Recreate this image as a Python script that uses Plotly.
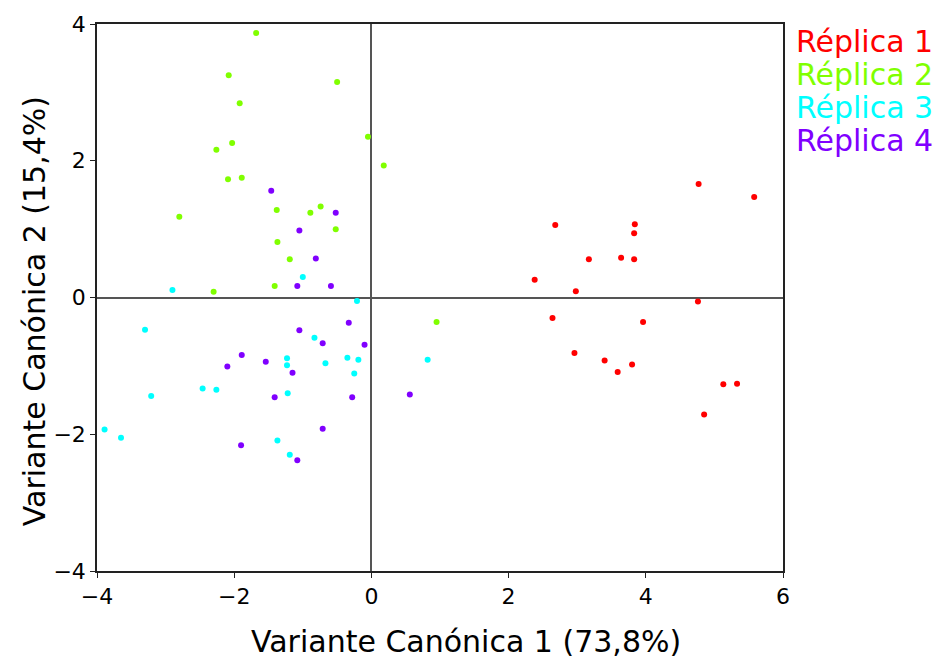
import plotly.graph_objects as go

# Canonical variate scores per replicate (CV1, CV2)
rep1_x = [4.77, 5.58, 2.68, 3.84, 3.83, 3.17, 3.64, 3.83, 2.38, 2.98,
          4.76, 2.64, 3.96, 2.96, 3.40, 3.80, 3.59, 5.13, 5.33, 4.85]
rep1_y = [1.66, 1.47, 1.06, 1.07, 0.94, 0.56, 0.58, 0.56, 0.26, 0.09,
          -0.06, -0.30, -0.36, -0.81, -0.92, -0.98, -1.09, -1.27, -1.26, -1.71]

rep2_x = [-1.68, -2.08, -0.50, -1.92, -0.05, -2.03, -2.26, 0.18, -2.09, -1.89,
          -2.80, -1.38, -0.89, -0.74, -0.52, -1.37, -1.19, -1.41, -2.30, 0.95]
rep2_y = [3.87, 3.25, 3.15, 2.84, 2.35, 2.26, 2.16, 1.93, 1.73, 1.75,
          1.18, 1.28, 1.24, 1.33, 1.00, 0.81, 0.56, 0.17, 0.085, -0.36]

rep3_x = [-2.90, -1.00, -0.21, -3.30, -0.83, -1.23, -1.23, -0.67, -0.35, -0.19,
          -0.25, -2.46, -2.26, -3.21, -1.22, -3.89, -3.65, -1.37, -1.19, 0.82]
rep3_y = [0.11, 0.30, -0.05, -0.47, -0.59, -0.89, -0.99, -0.96, -0.88, -0.91,
          -1.11, -1.33, -1.35, -1.44, -1.40, -1.93, -2.05, -2.09, -2.30, -0.91]

rep4_x = [-1.46, -0.52, -1.05, -0.81, -1.08, -0.59, -0.33, -1.05, -0.71, -0.10,
          -1.89, -1.54, -2.10, -1.15, -1.41, -0.28, -0.71, -1.90, -1.08, 0.56]
rep4_y = [1.56, 1.24, 0.98, 0.57, 0.17, 0.17, -0.37, -0.48, -0.67, -0.69,
          -0.84, -0.94, -1.01, -1.10, -1.46, -1.46, -1.92, -2.16, -2.38, -1.42]

names = ["Réplica 1", "Réplica 2", "Réplica 3", "Réplica 4"]
colors = ["#ff0000", "#80ff00", "#00ffff", "#8000ff"]
series = [(rep1_x, rep1_y), (rep2_x, rep2_y), (rep3_x, rep3_y), (rep4_x, rep4_y)]

x_title = "Variante Canónica 1 (73,8%)"
y_title = "Variante Canónica 2 (15,4%)"

font_family = "DejaVu Sans, Verdana, sans-serif"

fig = go.Figure()
for (xs, ys), name, col in zip(series, names, colors):
    fig.add_trace(go.Scatter(
        x=xs, y=ys, mode="markers", name=name,
        marker=dict(color=col, size=6, line=dict(width=0)),
        showlegend=False,
    ))

# Coloured text legend in the right margin
for i, (name, col) in enumerate(zip(names, colors)):
    fig.add_annotation(
        xref="paper", yref="paper", x=1.0, y=1.0,
        xanchor="left", yanchor="middle",
        xshift=11, yshift=-17 - 33 * i,
        text=name, showarrow=False,
        font=dict(family=font_family, size=30, color=col),
    )

# Axis titles
fig.add_annotation(
    xref="paper", yref="paper", x=0.538, y=0.0,
    xanchor="center", yanchor="middle", yshift=-70,
    text=x_title, showarrow=False,
    font=dict(family=font_family, size=30, color="black"),
)
fig.add_annotation(
    xref="paper", yref="paper", x=0.0, y=0.475,
    xanchor="center", yanchor="middle", xshift=-63,
    text=y_title, showarrow=False, textangle=-90,
    font=dict(family=font_family, size=30, color="black"),
)

axis_common = dict(
    showgrid=False,
    showline=True, linecolor="#222222", linewidth=1.5, mirror=True,
    zeroline=True, zerolinecolor="#555555", zerolinewidth=1.5,
    ticks="outside", ticklen=5, tickcolor="#222222", tickwidth=1,
    tickfont=dict(family=font_family, size=22, color="black"),
    dtick=2,
)

fig.update_layout(
    width=935, height=658,
    margin=dict(l=97, r=152, t=24, b=87),
    paper_bgcolor="white", plot_bgcolor="white",
    font=dict(family=font_family, color="black"),
    xaxis=dict(range=[-4, 6], tick0=-4, **axis_common),
    yaxis=dict(range=[-4, 4], tick0=-4, **axis_common),
)

fig.write_html("out.html")
